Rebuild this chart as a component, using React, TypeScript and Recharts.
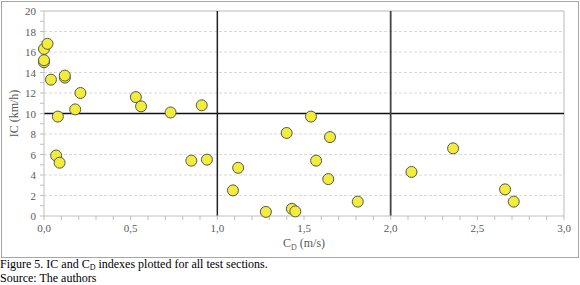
import React from 'react';
import { ScatterChart, Scatter, XAxis, YAxis, CartesianGrid, ReferenceLine, Label } from 'recharts';

// C_D (m/s) and IC (km/h) for each test section
const cdValues = [0.0, 0.02, 0.0, 0.0, 0.04, 0.12, 0.12, 0.08, 0.18, 0.21, 0.53, 0.56, 0.73, 0.91, 1.54, 1.4, 1.65, 0.07, 0.09, 0.85, 0.94, 1.12, 1.09, 1.28, 1.43, 1.45, 1.57, 1.64, 1.81, 2.36, 2.12, 2.66, 2.71];
const icValues = [16.3, 16.8, 15.0, 15.2, 13.3, 13.5, 13.7, 9.7, 10.4, 12.0, 11.6, 10.7, 10.1, 10.8, 9.7, 8.1, 7.7, 5.9, 5.2, 5.4, 5.5, 4.7, 2.5, 0.4, 0.7, 0.45, 5.4, 3.6, 1.4, 6.6, 4.3, 2.6, 1.4];

const xTicks = Array.from({ length: 31 }, (_, i) => i / 10);
const yTicks = Array.from({ length: 21 }, (_, i) => i);

const points = cdValues.map((cd, i) => ({ cd, ic: icValues[i] }));

const font = "'Liberation Serif', 'Times New Roman', serif";
const tickStyle = { fontSize: 11, fill: '#595959', fontFamily: font };

const fmt = (v: number) => v.toFixed(1).replace('.', ',');

const Dot = (p: any) => (
  <circle cx={p.cx} cy={p.cy} r={5.5} fill="#f2ec3a" stroke="#555" strokeWidth={1} />
);

export default function App() {
  return (
    <div style={{ position: 'fixed', left: 0, top: 0, width: 580, height: 285, background: '#fff', fontFamily: font }}>
      <div style={{ position: 'absolute', left: 1, top: 1, width: 576, height: 255, border: '1px solid #a6a6a6' }} />
      <div style={{ position: 'absolute', left: 0, top: 0 }}>
        <ScatterChart width={580} height={258} margin={{ top: 11, right: 16, bottom: 0, left: 0 }}>
          <CartesianGrid vertical={false} horizontal horizontalValues={[2, 4, 6, 8, 12, 14, 16, 18]} stroke="#d9d9d9" strokeDasharray="3 2" />
          <XAxis
            type="number"
            dataKey="cd"
            domain={[0, 3]}
            ticks={xTicks}
            interval={0}
            height={42}
            tickSize={4}
            stroke="#bfbfbf"
            tick={(t: any) => {
              const v = t.payload.value;
              const major = Math.abs(v * 2 - Math.round(v * 2)) < 1e-6;
              return major ? (
                <text x={t.x} y={t.y + 10} textAnchor="middle" {...tickStyle}>{fmt(v)}</text>
              ) : <g />;
            }}
          >
            <Label
              content={(props: any) => {
                const vb = props.viewBox;
                return (
                  <text x={vb.x + vb.width / 2} y={vb.y + 31} textAnchor="middle" fontSize={12} fill="#595959" fontFamily={font}>
                    C<tspan fontSize={8} dy={3}>D</tspan><tspan dy={-3}> (m/s)</tspan>
                  </text>
                );
              }}
            />
          </XAxis>
          <YAxis
            type="number"
            dataKey="ic"
            domain={[0, 20]}
            ticks={yTicks}
            interval={0}
            width={44}
            tickSize={4}
            stroke="#bfbfbf"
            tick={(t: any) => {
              const v = t.payload.value;
              return v % 2 === 0 ? (
                <text x={t.x - 2} y={t.y + 4} textAnchor="end" {...tickStyle}>{v}</text>
              ) : <g />;
            }}
          >
            <Label value="IC (km/h)" angle={-90} position="insideLeft" offset={14} style={{ fontSize: 12, fill: '#595959', fontFamily: font, textAnchor: 'middle' }} />
          </YAxis>
          <ReferenceLine y={20} stroke="#d0d0d0" strokeWidth={1.5} />
          <ReferenceLine x={3} stroke="#d0d0d0" strokeWidth={1.5} />
          <ReferenceLine y={10} stroke="#111" strokeWidth={1.5} />
          <ReferenceLine x={1} stroke="#222" strokeWidth={1.5} />
          <ReferenceLine x={2} stroke="#444" strokeWidth={1.8} />
          <Scatter data={points} shape={Dot} isAnimationActive={false} />
        </ScatterChart>
      </div>
      <div style={{ position: 'absolute', left: 0, top: 258, fontSize: 12, lineHeight: '13px', color: '#000', fontFamily: font }}>
        <div>Figure 5. IC and C<span style={{ fontSize: 8, position: 'relative', top: 2 }}>D</span> indexes plotted for all test sections.</div>
        <div>Source: The authors</div>
      </div>
    </div>
  );
}
